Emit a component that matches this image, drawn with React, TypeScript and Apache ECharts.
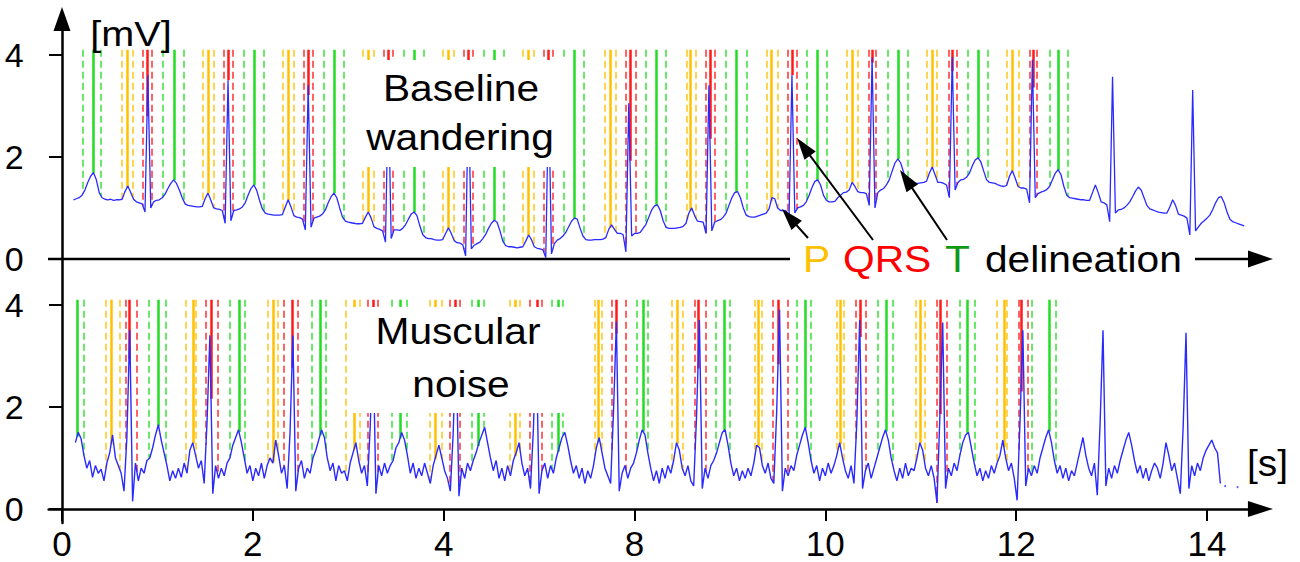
import React, { useEffect, useRef } from "react";
import * as echarts from "echarts";

// ---------- axis ticks ----------
const X_TICKS = [0, 2, 4, 6, 8, 10, 12];
const X_TICK_LABELS = ["0", "2", "4", "8", "10", "12", "14"];
const Y_TICKS = [0, 2, 4];

// ---------- ECG signals (mV), sampled every DT starting at T0 ----------
const TOP_T0 = 0.12;
const TOP_DT = 0.03;
const topSignal = [
  1.16, 1.18, 1.2, 1.25, 1.35, 1.5, 1.62, 1.69, 1.55, 1.3, 1.2, 1.17, 1.16, 1.17, 1.15, 1.16,
  1.16, 1.17, 1.32, 1.43, 1.3, 1.17, 1.12, 1.1, 1.08, 0.92, 3.6, 1.0, 1.12, 1.15, 1.16, 1.2, 1.27, 1.38, 1.48, 1.55, 1.48, 1.35, 1.2, 1.08, 1.05, 1.04, 1.03, 1.02,
  1.02, 1.03, 1.18, 1.29, 1.15, 1.0, 0.98, 0.97, 0.95, 0.7, 3.5, 0.75, 0.95, 0.96, 0.98, 1.02, 1.1, 1.25, 1.38, 1.45, 1.35, 1.15, 0.98, 0.9, 0.88, 0.87, 0.86, 0.86,
  0.86, 0.87, 1.02, 1.16, 1.02, 0.85, 0.82, 0.81, 0.78, 0.57, 3.4, 0.62, 0.8, 0.82, 0.84, 0.88, 0.96, 1.1, 1.22, 1.29, 1.2, 1.0, 0.82, 0.74, 0.72, 0.71, 0.7, 0.69,
  0.69, 0.7, 0.82, 0.92, 0.8, 0.63, 0.6, 0.58, 0.55, 0.33, 3.3, 0.4, 0.57, 0.57, 0.56, 0.6, 0.67, 0.78, 0.88, 0.92, 0.85, 0.65, 0.48, 0.42, 0.4, 0.4, 0.38, 0.37,
  0.37, 0.38, 0.5, 0.61, 0.5, 0.36, 0.32, 0.31, 0.28, 0.06, 3.3, 0.2, 0.27, 0.3, 0.33, 0.4, 0.48, 0.6, 0.7, 0.76, 0.72, 0.55, 0.35, 0.26, 0.24, 0.24, 0.23, 0.22,
  0.23, 0.24, 0.35, 0.47, 0.38, 0.24, 0.21, 0.2, 0.18, 0.03, 3.25, 0.1, 0.3, 0.37, 0.4, 0.45, 0.52, 0.63, 0.74, 0.8, 0.78, 0.6, 0.45, 0.38, 0.37, 0.37, 0.38, 0.38,
  0.38, 0.39, 0.42, 0.58, 0.67, 0.58, 0.5, 0.5, 0.48, 0.14, 3.05, 0.45, 0.5, 0.5, 0.52, 0.6, 0.68, 0.82, 0.96, 1.04, 1.06, 0.95, 0.75, 0.62, 0.6, 0.6, 0.6, 0.61,
  0.62, 0.64, 0.7, 0.9, 1.0, 0.85, 0.74, 0.73, 0.72, 0.5, 3.4, 0.55, 0.72, 0.75, 0.77, 0.82, 0.9, 1.05, 1.2, 1.3, 1.32, 1.2, 1.0, 0.86, 0.83, 0.82, 0.82, 0.84,
  0.86, 0.88, 0.9, 0.98, 1.2, 1.18, 1.0, 0.95, 0.95, 0.94, 0.85, 3.6, 0.9, 1.0, 1.02, 1.05, 1.12, 1.25, 1.4, 1.52, 1.55, 1.45, 1.25, 1.15, 1.12, 1.12, 1.13, 1.2, 1.25,
  1.3, 1.31, 1.35, 1.5, 1.42, 1.32, 1.3, 1.3, 1.28, 1.05, 3.94, 1.0, 1.3, 1.35, 1.38, 1.45, 1.55, 1.72, 1.88, 1.96, 1.88, 1.7, 1.55, 1.5, 1.49, 1.48, 1.48, 1.49,
  1.5, 1.52, 1.68, 1.8, 1.65, 1.5, 1.5, 1.48, 1.45, 1.2, 3.95, 1.35, 1.5, 1.55, 1.56, 1.6, 1.68, 1.82, 1.94, 1.98, 1.9, 1.72, 1.55, 1.5, 1.49, 1.48, 1.45, 1.43,
  1.42, 1.44, 1.62, 1.73, 1.58, 1.42, 1.39, 1.39, 1.37, 1.1, 3.9, 1.2, 1.28, 1.31, 1.33, 1.36, 1.42, 1.55, 1.68, 1.75, 1.65, 1.42, 1.25, 1.2, 1.19, 1.18, 1.17, 1.16,
  1.16, 1.15, 1.15, 1.3, 1.45, 1.3, 1.12, 1.1, 1.06, 0.73, 3.57, 0.9, 0.96, 0.97, 1.0, 1.05, 1.12, 1.22, 1.33, 1.41, 1.35, 1.2, 1.05, 0.98, 0.96, 0.94, 0.92, 0.91,
  0.9, 0.9, 1.02, 1.16, 1.05, 0.88, 0.86, 0.84, 0.8, 0.47, 3.31, 0.55, 0.63, 0.7, 0.75, 0.8, 0.86, 0.97, 1.1, 1.2, 1.22, 1.1, 0.92, 0.78, 0.73, 0.71, 0.69, 0.67, 0.65,
];

const BOT_T0 = 0.14;
const BOT_DT = 0.03;
const bottomSignal = [
  1.3, 1.5, 1.38, 1.05, 0.8, 0.95, 0.62, 0.85, 0.7,
  0.78, 0.55, 0.9, 1.1, 1.45, 1.0, 0.85, 0.7, 0.35, 1.4, 3.5, 0.15, 0.9, 0.55, 0.8, 0.7, 0.95, 1.0, 1.2, 1.45, 1.65, 1.35, 1.1, 0.85, 0.55, 0.75, 0.6, 0.8,
  0.62, 0.9, 0.7, 1.15, 1.3, 1.05, 0.8, 0.95, 0.5, 1.7, 3.4, 0.3, 0.85, 0.6, 0.8, 0.65, 0.9, 1.0, 1.25, 1.4, 1.55, 1.3, 1.0, 0.7, 0.85, 0.55, 0.8, 0.65, 0.9,
  0.6, 0.85, 1.0, 0.9, 1.35, 1.05, 0.7, 0.85, 0.4, 1.5, 3.4, 0.35, 0.8, 0.95, 0.6, 0.8, 0.7, 1.0, 1.15, 1.35, 1.55, 1.4, 1.0, 0.75, 0.9, 0.55, 0.85, 0.7,
  0.75, 0.55, 0.9, 1.1, 1.3, 0.95, 0.7, 0.85, 0.45, 1.6, 3.3, 0.3, 0.85, 0.65, 0.9, 0.7, 0.85, 0.95, 1.2, 1.3, 1.5, 1.35, 1.05, 0.7, 0.9, 0.6, 0.8, 0.65, 0.9,
  0.7, 0.5, 0.85, 1.05, 1.25, 1.0, 0.75, 0.6, 0.35, 1.5, 3.3, 0.25, 0.8, 0.6, 0.9, 0.75, 0.95, 1.1, 1.3, 1.45, 1.6, 1.3, 1.0, 0.75, 0.95, 0.6, 0.8, 0.55,
  0.85, 0.65, 0.95, 1.1, 1.3, 0.9, 0.65, 0.8, 0.4, 1.55, 3.3, 0.3, 0.75, 0.9, 0.6, 0.85, 0.7, 1.0, 1.2, 1.4, 1.5, 1.25, 0.95, 0.7, 0.85, 0.6, 0.8, 0.5,
  0.75, 0.6, 0.85, 1.2, 1.4, 1.1, 0.8, 0.65, 0.5, 1.9, 3.67, 0.35, 0.7, 0.85, 0.6, 0.8, 0.9, 1.1, 1.35, 1.55, 1.45, 1.1, 0.8, 0.55, 0.75, 0.5, 0.8, 0.6, 0.85,
  0.7, 0.95, 1.3, 1.15, 0.8, 0.65, 0.85, 0.55, 0.45, 1.8, 3.7, 0.4, 0.8, 0.6, 0.85, 0.95, 1.1, 1.3, 1.5, 1.55, 1.25, 0.9, 0.65, 0.8, 0.55, 0.75, 0.6, 0.8,
  0.65, 0.9, 1.25, 1.2, 0.85, 0.7, 0.9, 0.6, 0.5, 1.9, 3.9, 0.35, 0.8, 0.65, 0.85, 0.75, 1.05, 1.25, 1.45, 1.6, 1.3, 0.95, 0.7, 0.85, 0.55, 0.8, 0.65, 0.9,
  0.7, 0.85, 1.05, 1.3, 1.0, 0.75, 0.6, 0.85, 0.5, 1.7, 3.7, 0.4, 0.75, 0.9, 0.6, 0.8, 1.0, 1.2, 1.4, 1.55, 1.35, 1.0, 0.75, 0.55, 0.8, 0.6, 0.9, 0.65, 0.8,
  0.75, 1.0, 1.3, 1.15, 0.8, 0.65, 0.85, 0.6, 0.12, 1.8, 3.65, 0.4, 0.8, 0.65, 0.9, 0.75, 1.05, 1.3, 1.45, 1.5, 1.2, 0.9, 0.65, 0.8, 0.55, 0.75, 0.6, 0.85,
  0.7, 0.9, 1.05, 1.35, 1.0, 0.75, 0.9, 0.6, 0.17, 1.7, 3.5, 0.45, 0.8, 0.65, 0.85, 0.7, 1.0, 1.2, 1.4, 1.55, 1.3, 0.95, 0.7, 0.85, 0.6, 0.8, 0.55, 0.75,
  0.65, 0.9, 1.15, 1.4, 1.05, 0.8, 0.65, 0.9, 0.27, 1.7, 3.5, 0.45, 0.8, 0.6, 0.85, 0.7, 0.95, 1.15, 1.35, 1.5, 1.25, 0.95, 0.7, 0.85, 0.6, 0.8, 0.55, 0.75, 0.9,
  0.8, 0.6, 0.9, 1.3, 1.05, 0.75, 0.9, 0.6, 0.3, 1.6, 3.45, 0.4, 0.85, 0.65, 0.9, 0.75, 1.0, 1.15, 1.25, 1.35, 1.2, 1.1, 0.5,
];
const bottomTailDots = [[12.19, 0.45], [12.32, 0.43]];

// ---------- delineation marks (time positions on the drawn axis) ----------
const MARK_TOP = 4.1;
const topPOn = [0.629, 1.478, 2.316, 3.154, 3.993, 4.831, 5.691, 6.55, 7.388, 8.227, 9.065, 9.904];
const topPPeak = [0.681, 1.53, 2.368, 3.207, 4.045, 4.884, 5.743, 6.581, 7.43, 8.279, 9.118, 9.956];
const topPOff = [0.744, 1.593, 2.431, 3.27, 4.108, 4.947, 5.806, 6.644, 7.504, 8.342, 9.17, 10.029];
const topQrsOn = [0.849, 1.698, 2.536, 3.375, 4.213, 5.051, 5.911, 6.749, 7.608, 8.457, 9.296, 10.145];
const topQrsPeak = [0.891, 1.74, 2.578, 3.416, 4.255, 5.093, 5.953, 6.791, 7.65, 8.489, 9.327, 10.176];
const topQrsOff = [0.943, 1.792, 2.63, 3.469, 4.307, 5.146, 6.015, 6.843, 7.703, 8.531, 9.38, 10.218];
const topTOn = [0.22, 1.058, 1.907, 2.746, 3.584, 4.423, 5.261, 6.12, 6.959, 7.808, 8.656, 9.495, 10.354];
const topTPeak = [0.325, 1.174, 2.012, 2.851, 3.689, 4.527, 5.366, 6.225, 7.064, 7.912, 8.761, 9.6, 10.438];
const topTOff = [0.409, 1.279, 2.117, 2.955, 3.794, 4.632, 5.471, 6.33, 7.179, 8.017, 8.866, 9.704, 10.543];

const botPOn = [0.461, 1.3, 2.159, 2.976, 3.857, 4.695, 5.586, 6.393, 7.263, 8.122, 8.95, 9.799];
const botPPeak = [0.514, 1.373, 2.211, 3.06, 3.909, 4.747, 5.617, 6.445, 7.294, 8.153, 8.992, 9.872];
const botPOff = [0.608, 1.404, 2.264, 3.123, 3.982, 4.8, 5.659, 6.508, 7.336, 8.195, 9.044, 9.904];
const botQrsOn = [0.671, 1.509, 2.327, 3.207, 4.066, 4.905, 5.764, 6.634, 7.451, 8.321, 9.17, 10.029];
const botQrsPeak = [0.702, 1.562, 2.41, 3.259, 4.119, 4.978, 5.806, 6.665, 7.504, 8.363, 9.201, 10.05];
const botQrsOff = [0.786, 1.635, 2.473, 3.312, 4.171, 5.03, 5.911, 6.749, 7.608, 8.426, 9.275, 10.124];
const botTOn = [0.912, 1.761, 2.62, 3.458, 4.297, 5.135, 6.026, 6.854, 7.703, 8.552, 9.411, 10.166];
const botTPeak = [0.157, 1.006, 1.855, 2.704, 3.542, 4.36, 5.198, 6.089, 6.938, 7.787, 8.635, 9.484, 10.344];
const botTOff = [0.231, 1.09, 1.918, 2.767, 3.616, 4.423, 5.25, 6.141, 7.001, 7.849, 8.709, 9.568, 10.417];

const P_COLOR = "#ffc000";
const QRS_COLOR = "#ff1a1a";
const T_COLOR = "#22dd22";
const SIGNAL_COLOR = "#2a2aff";
const FONT = "Liberation Sans";

function sampleAt(values: number[], t0: number, dt: number, t: number) {
  const f = (t - t0) / dt;
  const i = Math.floor(f);
  if (i < 0) return values[0];
  if (i >= values.length - 1) return values[values.length - 1];
  const a = f - i;
  return values[i] * (1 - a) + values[i + 1] * a;
}

function markSeries(
  idx: number,
  times: number[],
  values: number[],
  t0: number,
  dt: number,
  color: string,
  dashed: boolean
) {
  return {
    type: "lines",
    coordinateSystem: "cartesian2d",
    xAxisIndex: idx,
    yAxisIndex: idx,
    silent: true,
    z: 1,
    polyline: false,
    lineStyle: {
      color,
      width: dashed ? 1.6 : 2.5,
      type: dashed ? [7, 4] : "solid",
      opacity: dashed ? 0.85 : 1,
    },
    data: times.map((t) => ({
      coords: [
        [t, MARK_TOP],
        [t, sampleAt(values, t0, dt, t)],
      ],
    })),
  };
}

function pointer(tail: number[], tip: number[]) {
  const dx = tip[0] - tail[0];
  const dy = tip[1] - tail[1];
  const len = Math.sqrt(dx * dx + dy * dy);
  const ux = dx / len;
  const uy = dy / len;
  const hl = 22;
  const hw = 7;
  const bx = tip[0] - ux * hl;
  const by = tip[1] - uy * hl;
  return [
    {
      type: "line",
      z: 120,
      shape: { x1: tail[0], y1: tail[1], x2: bx + ux * 2, y2: by + uy * 2 },
      style: { stroke: "#000", lineWidth: 2 },
    },
    {
      type: "polygon",
      z: 120,
      shape: {
        points: [
          [tip[0], tip[1]],
          [bx - uy * hw, by + ux * hw],
          [bx + uy * hw, by - ux * hw],
        ],
      },
      style: { fill: "#000" },
    },
  ];
}

function label(text: string, x: number, y: number, color: string, align: string, size = 37, sx = 1.1) {
  return {
    type: "text",
    x,
    y,
    scaleX: sx,
    z: 130,
    style: {
      text,
      fill: color,
      fontSize: size,
      fontFamily: FONT,
      align,
      verticalAlign: "middle",
    },
  };
}

export default function App() {
  const ref = useRef<HTMLDivElement>(null);

  useEffect(() => {
    if (!ref.current) return;
    const chart = echarts.init(ref.current, undefined, { renderer: "svg" });

    const topData = topSignal.map((v, i) => [TOP_T0 + i * TOP_DT, v]);
    const botData = bottomSignal.map((v, i) => [BOT_T0 + i * BOT_DT, v]);

    const gridLeft = 48.64;
    const gridWidth = 1211.8;
    const xMin = -0.14;
    const xMax = 12.56;

    const yTick = () => ({ show: true, length: 13, lineStyle: { color: "#000", width: 2 }, customValues: Y_TICKS });
    const yLabel = () => ({
      show: true,
      customValues: Y_TICKS,
      fontSize: 34,
      lineHeight: 34,
      fontFamily: FONT,
      color: "#000",
      margin: 25,
    });

    const option: any = {
      animation: false,
      backgroundColor: "#fff",
      grid: [
        { left: gridLeft, width: gridWidth, top: 19, height: 240, containLabel: false, outerBoundsMode: "none" },
        { left: gridLeft, width: gridWidth, top: 259, height: 264, containLabel: false, outerBoundsMode: "none" },
      ],
      xAxis: [
        { type: "value", gridIndex: 0, min: xMin, max: xMax, show: false },
        {
          type: "value",
          gridIndex: 1,
          min: xMin,
          max: xMax,
          axisLine: {
            show: true,
            onZero: true,
            symbol: ["none", "triangle"],
            symbolSize: [16, 25],
            lineStyle: { color: "#000", width: 2.5 },
          },
          axisTick: { show: true, length: 12, lineStyle: { color: "#000", width: 2 }, customValues: X_TICKS },
          axisLabel: {
            show: true,
            customValues: X_TICKS,
            fontSize: 35,
            lineHeight: 35,
            fontFamily: FONT,
            color: "#000",
            margin: 3,
            formatter: (v: number) => {
              const k = X_TICKS.indexOf(Math.round(v));
              return k >= 0 ? X_TICK_LABELS[k] : "";
            },
          },
          splitLine: { show: false },
        },
      ],
      yAxis: [
        {
          type: "value",
          gridIndex: 0,
          min: 0,
          max: 4.7,
          axisLine: {
            show: true,
            onZero: true,
            symbol: ["none", "triangle"],
            symbolSize: [17, 24],
            lineStyle: { color: "#000", width: 2.5 },
          },
          axisTick: yTick(),
          axisLabel: yLabel(),
          splitLine: { show: false },
        },
        {
          type: "value",
          gridIndex: 1,
          min: -0.274,
          max: 4.896,
          axisLine: { show: true, onZero: true, lineStyle: { color: "#000", width: 2.5 } },
          axisTick: yTick(),
          axisLabel: yLabel(),
          splitLine: { show: false },
        },
      ],
      series: [
        // top panel marks
        markSeries(0, [...topPOn, ...topPOff], topSignal, TOP_T0, TOP_DT, P_COLOR, true),
        markSeries(0, topPPeak, topSignal, TOP_T0, TOP_DT, P_COLOR, false),
        markSeries(0, [...topQrsOn, ...topQrsOff], topSignal, TOP_T0, TOP_DT, QRS_COLOR, true),
        markSeries(0, topQrsPeak, topSignal, TOP_T0, TOP_DT, QRS_COLOR, false),
        markSeries(0, [...topTOn, ...topTOff], topSignal, TOP_T0, TOP_DT, T_COLOR, true),
        markSeries(0, topTPeak, topSignal, TOP_T0, TOP_DT, T_COLOR, false),
        // bottom panel marks
        markSeries(1, [...botPOn, ...botPOff], bottomSignal, BOT_T0, BOT_DT, P_COLOR, true),
        markSeries(1, botPPeak, bottomSignal, BOT_T0, BOT_DT, P_COLOR, false),
        markSeries(1, [...botQrsOn, ...botQrsOff], bottomSignal, BOT_T0, BOT_DT, QRS_COLOR, true),
        markSeries(1, botQrsPeak, bottomSignal, BOT_T0, BOT_DT, QRS_COLOR, false),
        markSeries(1, [...botTOn, ...botTOff], bottomSignal, BOT_T0, BOT_DT, T_COLOR, true),
        markSeries(1, botTPeak, bottomSignal, BOT_T0, BOT_DT, T_COLOR, false),
        {
          type: "line",
          name: "Baseline wandering",
          xAxisIndex: 0,
          yAxisIndex: 0,
          data: topData,
          showSymbol: false,
          symbol: "none",
          silent: true,
          z: 5,
          lineStyle: { color: SIGNAL_COLOR, width: 1.3 },
        },
        {
          type: "line",
          name: "Muscular noise",
          xAxisIndex: 1,
          yAxisIndex: 1,
          data: botData,
          showSymbol: false,
          symbol: "none",
          silent: true,
          z: 5,
          lineStyle: { color: SIGNAL_COLOR, width: 1.4 },
        },
        {
          type: "scatter",
          xAxisIndex: 1,
          yAxisIndex: 1,
          data: bottomTailDots,
          symbolSize: 2,
          silent: true,
          z: 5,
          itemStyle: { color: SIGNAL_COLOR },
        },
      ],
      graphic: {
        elements: [
          // top panel time axis segment and delineation arrow
          { type: "line", z: 110, shape: { x1: 48, y1: 259, x2: 790, y2: 259 }, style: { stroke: "#000", lineWidth: 2.5 } },
          { type: "line", z: 110, shape: { x1: 1195, y1: 259, x2: 1252, y2: 259 }, style: { stroke: "#000", lineWidth: 2.5 } },
          { type: "polygon", z: 110, shape: { points: [[1273, 259], [1248, 250.5], [1248, 267.5]] }, style: { fill: "#000" } },
          // white label boxes
          { type: "rect", z: 100, shape: { x: 345, y: 60, width: 227, height: 107 }, style: { fill: "#fff" } },
          { type: "rect", z: 100, shape: { x: 348, y: 307, width: 222, height: 106 }, style: { fill: "#fff" } },
          label("[mV]", 131, 34, "#000", "center", 36),
          label("Baseline", 461, 88, "#000", "center"),
          label("wandering", 460, 137, "#000", "center"),
          label("Muscular", 458, 331, "#000", "center"),
          label("noise", 461, 384, "#000", "center"),
          label("P", 803, 259, P_COLOR, "left"),
          label("QRS", 843, 259, "#ff0000", "left"),
          label("T", 945, 259, "#129812", "left"),
          label("delineation", 985, 259, "#000", "left"),
          label("[s]", 1247, 463, "#000", "left", 37, 1.05),
          ...pointer([808, 238], [782, 209]),
          ...pointer([873, 240], [797, 138]),
          ...pointer([947, 240], [900, 170]),
        ],
      },
    };

    chart.setOption(option);
    return () => chart.dispose();
  }, []);

  return (
    <div
      ref={ref}
      style={{ position: "fixed", left: 0, top: 0, width: 1300, height: 562, background: "#fff" }}
    />
  );
}
